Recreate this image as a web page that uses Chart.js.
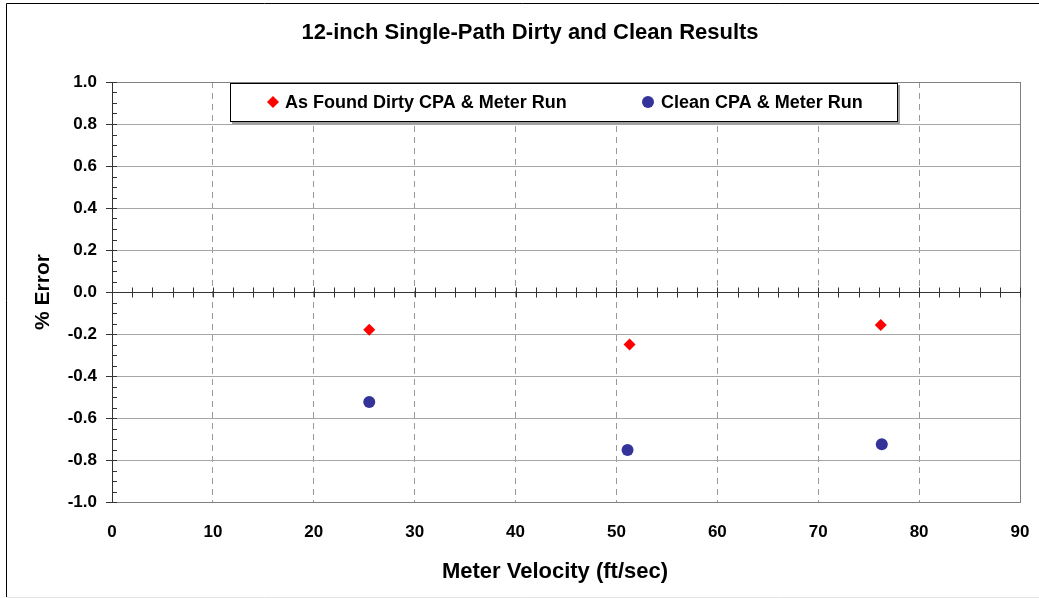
<!DOCTYPE html>
<html>
<head>
<meta charset="utf-8">
<script src="https://cdn.jsdelivr.net/npm/chart.js@4.4.0/dist/chart.umd.min.js"></script>
<style>
  body { margin: 0; background: #fff; }
</style>
</head>
<body>
<canvas id="Grafico_Erro" width="1039" height="598"></canvas>
<script>
// Dados
var titulo = "12-inch Single-Path Dirty and Clean Results";
var legendaSujo = "As Found Dirty CPA & Meter Run";
var legendaLimpo = "Clean CPA & Meter Run";
var velocidadeSujo = [25.5, 51.3, 76.2];
var erroSujo = [-0.18, -0.25, -0.157];
var velocidadeLimpo = [25.5, 51.1, 76.3];
var erroLimpo = [-0.524, -0.752, -0.725];
var tituloX = "Meter Velocity (ft/sec)";
var tituloY = "% Error";

var fonte = "'Liberation Sans', Arial, sans-serif";

function montarPontos(xs, ys) {
  var lista = [];
  for (var i = 0; i < xs.length; i++) {
    lista.push({ x: xs[i], y: ys[i] });
  }
  return lista;
}

// Moldura, eixo no zero, marcas menores, títulos e legenda dentro da área
var pluginMoldura = {
  id: "moldura",
  beforeDatasetsDraw: function (chart) {
    var ctx = chart.ctx;
    var area = chart.chartArea;
    var sx = chart.scales.x;
    var sy = chart.scales.y;
    var v, p;

    ctx.save();
    // borda externa
    ctx.strokeStyle = "#000";
    ctx.lineWidth = 1;
    ctx.beginPath();
    ctx.moveTo(6.5, 598);
    ctx.lineTo(6.5, 3.5);
    ctx.lineTo(1039, 3.5);
    ctx.stroke();
    ctx.strokeStyle = "#e6e6e6";
    ctx.beginPath();
    ctx.moveTo(6, 597.5);
    ctx.lineTo(1039, 597.5);
    ctx.stroke();

    // moldura da área do gráfico
    ctx.strokeStyle = "#808080";
    ctx.strokeRect(area.left + 0.5, area.top + 0.5, area.right - area.left, area.bottom - area.top);

    // eixo y
    ctx.strokeStyle = "#333";
    ctx.beginPath();
    ctx.moveTo(area.left + 0.5, area.top);
    ctx.lineTo(area.left + 0.5, area.bottom);
    for (v = -20; v <= 20; v++) {
      p = Math.round(sy.getPixelForValue(v * 0.05)) + 0.5;
      if (v % 4 === 0) {
        ctx.moveTo(area.left - 6, p);
      } else {
        ctx.moveTo(area.left, p);
      }
      ctx.lineTo(area.left + 5, p);
    }
    ctx.stroke();

    // eixo x no zero
    var y0 = Math.round(sy.getPixelForValue(0)) + 0.5;
    ctx.beginPath();
    ctx.moveTo(area.left, y0);
    ctx.lineTo(area.right, y0);
    for (v = 0; v <= 90; v += 2) {
      p = Math.round(sx.getPixelForValue(v)) + 0.5;
      ctx.moveTo(p, y0 - 5);
      ctx.lineTo(p, y0 + 5);
    }
    ctx.stroke();

    // título principal e título do eixo x
    ctx.fillStyle = "#000";
    ctx.textAlign = "center";
    ctx.textBaseline = "middle";
    ctx.font = "bold 22px " + fonte;
    ctx.fillText(titulo, 530, 33);
    ctx.fillText(tituloX, 555, 572);
    ctx.restore();
  },
  afterDraw: function (chart) {
    var ctx = chart.ctx;
    var ds = chart.data.datasets;
    ctx.save();
    // caixa da legenda
    ctx.fillStyle = "#a0a0a0";
    ctx.fillRect(232, 85, 668, 39);
    ctx.fillStyle = "#fff";
    ctx.fillRect(230, 83, 668, 39);
    ctx.strokeStyle = "#000";
    ctx.lineWidth = 1;
    ctx.strokeRect(230.5, 83.5, 667, 38);

    // marcadores
    ctx.fillStyle = ds[0].backgroundColor;
    ctx.beginPath();
    ctx.moveTo(273, 96);
    ctx.lineTo(279, 102);
    ctx.lineTo(273, 108);
    ctx.lineTo(267, 102);
    ctx.closePath();
    ctx.fill();
    ctx.fillStyle = ds[1].backgroundColor;
    ctx.beginPath();
    ctx.arc(648, 102, 6, 0, Math.PI * 2);
    ctx.fill();

    // textos
    ctx.fillStyle = "#000";
    ctx.font = "bold 18px " + fonte;
    ctx.textBaseline = "middle";
    ctx.textAlign = "left";
    ctx.fillText(ds[0].label, 285, 103);
    ctx.fillText(ds[1].label, 661, 103);
    ctx.restore();
  },
};

var ctx1 = document.getElementById("Grafico_Erro").getContext("2d");
var Grafico_Erro = new Chart(ctx1, {
  type: "scatter",
  data: {
    datasets: [
      {
        label: legendaSujo,
        data: montarPontos(velocidadeSujo, erroSujo),
        pointStyle: "rectRot",
        pointRadius: 6,
        borderWidth: 0,
        backgroundColor: "#ff0000",
        borderColor: "#ff0000",
      },
      {
        label: legendaLimpo,
        data: montarPontos(velocidadeLimpo, erroLimpo),
        pointStyle: "circle",
        pointRadius: 6,
        borderWidth: 0,
        backgroundColor: "#333399",
        borderColor: "#333399",
      },
    ],
  },
  options: {
    responsive: false,
    animation: false,
    layout: {
      padding: { left: 0, right: 19, top: 82, bottom: 0 },
    },
    plugins: {
      legend: { display: false },
      tooltip: { enabled: false },
      title: { display: false },
    },
    scales: {
      x: {
        type: "linear",
        min: 0,
        max: 90,
        afterFit: function (scale) {
          scale.height = 96;
          scale.paddingLeft = 0; // rótulos podem passar da borda
          scale.paddingRight = 0;
        },
        ticks: {
          stepSize: 10,
          color: "#000",
          font: { family: fonte, size: 17, weight: "bold" },
          padding: 20,
          maxRotation: 0,
        },
        grid: {
          color: "#999",
          drawTicks: false,
        },
        border: { display: false, dash: [6, 5] },
      },
      y: {
        type: "linear",
        min: -1,
        max: 1,
        afterFit: function (scale) {
          scale.width = 112;
          scale.paddingTop = 0;
          scale.paddingBottom = 0;
        },
        ticks: {
          stepSize: 0.2,
          color: "#000",
          font: { family: fonte, size: 17, weight: "bold" },
          padding: 15,
          callback: function (value) {
            if (Math.abs(value) < 1e-9) return "0.0"; // evita -0.0
            return value.toFixed(1);
          },
        },
        grid: {
          color: "#a6a6a6",
          drawTicks: false,
        },
        border: { display: false },
        title: {
          display: true,
          text: tituloY,
          color: "#000",
          font: { family: fonte, size: 21, weight: "bold" },
          padding: { top: 30.4, bottom: 0 },
        },
      },
    },
  },
  plugins: [pluginMoldura],
});
</script>
</body>
</html>
